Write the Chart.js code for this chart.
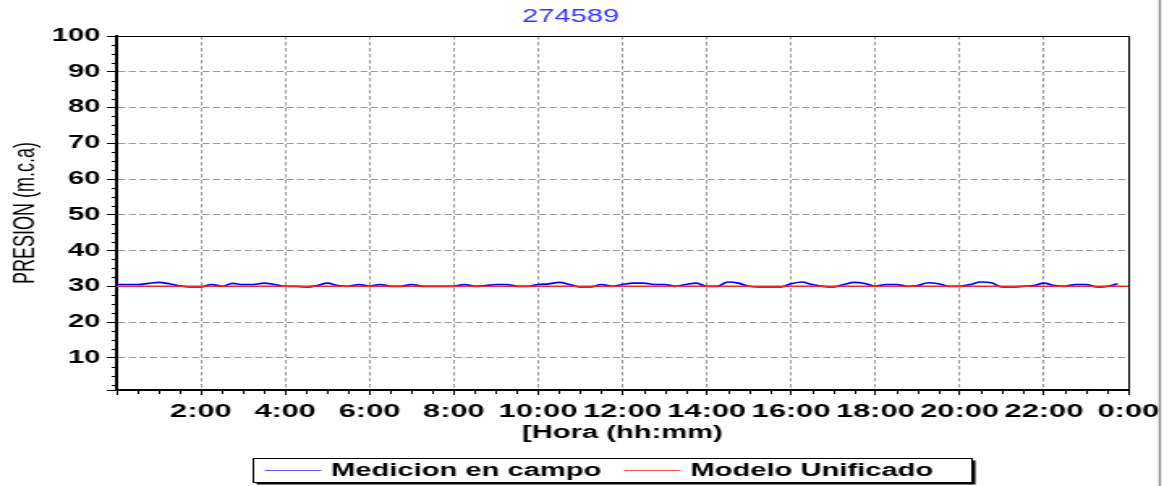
<!DOCTYPE html>
<html>
<head>
<meta charset="utf-8">
<script src="https://cdn.jsdelivr.net/npm/chart.js@4/dist/chart.umd.min.js"></script>
<style>
  html, body { margin: 0; padding: 0; background: #fff; overflow: hidden; }
</style>
</head>
<body>
<!-- drawn at 724 wide and shown at 1172 wide, like the exported report image -->
<canvas id="presion" width="724" height="486" style="width:1172px;height:486px;display:block"></canvas>
<script>
const titulo = '274589';
const series = ['Medicion en campo', 'Modelo Unificado'];

// field readings every 15 minutes, 0:00 .. 23:45
const medicion = [
  30.5, 30.5, 30.5, 30.8, 31.1, 30.7, 30.1, 29.8, 29.8, 30.5, 30.0, 30.8,
  30.5, 30.5, 30.9, 30.5, 30.0, 30.0, 29.8, 30.2, 30.9, 30.2, 30.0, 30.5,
  30.0, 30.5, 30.0, 30.0, 30.5, 30.0, 30.0, 30.0, 30.0, 30.5, 30.0, 30.2,
  30.5, 30.5, 30.0, 30.0, 30.5, 30.7, 31.1, 30.5, 29.8, 29.8, 30.5, 30.0,
  30.5, 30.9, 30.9, 30.5, 30.5, 30.0, 30.5, 30.9, 30.0, 30.0, 31.2, 30.9,
  30.0, 29.8, 29.8, 29.8, 30.7, 31.2, 30.5, 30.0, 29.8, 30.5, 31.1, 30.8,
  30.0, 30.5, 30.5, 30.0, 30.2, 31.0, 30.7, 30.0, 30.0, 30.5, 31.2, 31.0,
  29.8, 29.8, 30.0, 30.2, 30.9, 30.2, 30.0, 30.5, 30.5, 29.8, 30.0, 30.7
];

// model output every hour, 0:00 .. 24:00
const modelo = [
  30, 30, 30, 30, 30, 30, 30, 30, 30, 30, 30, 30, 30,
  30, 30, 30, 30, 30, 30, 30, 30, 30, 30, 30, 30
];

const horaLabels = ['', '2:00', '4:00', '6:00', '8:00', '10:00', '12:00',
  '14:00', '16:00', '18:00', '20:00', '22:00', '0:00'];

const FONT = '"Liberation Sans", Arial, sans-serif';
Chart.defaults.font.family = FONT;
Chart.defaults.color = '#000';

// top/right frame, minor ticks and the page edge line
const marco = {
  id: 'marco',
  afterDraw(chart) {
    const { ctx, chartArea: a, scales } = chart;
    ctx.save();
    ctx.strokeStyle = '#000';
    ctx.lineWidth = 1;
    ctx.beginPath();
    ctx.moveTo(a.left, a.top + 0.5);
    ctx.lineTo(a.right + 0.5, a.top + 0.5);
    ctx.lineTo(a.right + 0.5, a.bottom);
    ctx.stroke();

    ctx.beginPath();
    for (let v = 2.5; v < 100; v += 2.5) {
      if (v % 10 === 0) continue;
      const y = Math.round(scales.y.getPixelForValue(v)) + 0.5;
      ctx.moveTo(a.left - 3, y);
      ctx.lineTo(a.left, y);
    }
    for (let m = 30; m < 1440; m += 30) {
      if (m % 120 === 0) continue;
      const x = Math.round(scales.x.getPixelForValue(m)) + 0.5;
      ctx.moveTo(x, a.bottom);
      ctx.lineTo(x, a.bottom + 4);
    }
    ctx.stroke();

    ctx.strokeStyle = '#8c8c8c';
    ctx.lineWidth = 1.5;
    ctx.beginPath();
    ctx.moveTo(716.5, 0);
    ctx.lineTo(716.5, chart.height);
    ctx.stroke();
    ctx.restore();
  }
};

// boxed legend under the axis title, one column per series
const leyenda = {
  id: 'leyenda',
  afterDraw(chart) {
    const { ctx, chartArea: a } = chart;
    const sets = chart.data.datasets;
    ctx.save();
    ctx.font = 'bold 18px ' + FONT;
    const colW = Math.max(...sets.map(d => ctx.measureText(d.label).width)) + 55;
    const w = colW * sets.length;
    const h = 24;
    const x = Math.round((a.left + a.right) / 2 - w / 2) - 5.5;
    const y = 458.5;
    ctx.fillStyle = '#000';
    ctx.fillRect(x + 2, y + 2, w, h);
    ctx.fillStyle = '#fff';
    ctx.fillRect(x, y, w, h);
    ctx.strokeStyle = '#000';
    ctx.lineWidth = 1;
    ctx.strokeRect(x, y, w, h);
    sets.forEach((d, i) => {
      const cx = x + i * colW;
      ctx.strokeStyle = d.legendColor;
      ctx.lineWidth = 1.2;
      ctx.beginPath();
      ctx.moveTo(cx + 7, y + 12);
      ctx.lineTo(cx + 42, y + 12);
      ctx.stroke();
      ctx.fillStyle = '#000';
      ctx.textBaseline = 'middle';
      ctx.fillText(d.label, cx + 48, y + 13);
    });
    ctx.restore();
  }
};

new Chart(document.getElementById('presion'), {
  type: 'line',
  data: {
    datasets: [{
      label: series[0],
      data: medicion.map((v, i) => ({ x: i * 15, y: v })),
      borderColor: '#0000ff',
      legendColor: '#5a5aff',
      borderWidth: 1.7,
      cubicInterpolationMode: 'monotone',
      pointRadius: 0,
      order: 1
    }, {
      label: series[1],
      data: modelo.map((v, i) => ({ x: i * 60, y: v })),
      borderColor: '#f02828',
      legendColor: '#f05050',
      borderWidth: 1.5,
      pointRadius: 0,
      order: 0
    }]
  },
  options: {
    responsive: false,
    animation: false,
    events: [],
    layout: { padding: { left: 8, right: 27, top: 0, bottom: 36 } },
    plugins: {
      legend: { display: false },
      tooltip: { enabled: false },
      title: {
        display: true,
        text: titulo,
        color: '#3232ff',
        font: { size: 18, weight: 'normal' },
        padding: { top: 6, bottom: 8.4 }
      }
    },
    scales: {
      x: {
        type: 'linear',
        min: 0,
        max: 1440,
        afterFit: s => { s.height = 60; },
        ticks: {
          stepSize: 120,
          autoSkip: false,
          maxRotation: 0,
          padding: 5,
          font: { size: 19, weight: 'bold' },
          callback: v => horaLabels[v / 120] ?? ''
        },
        grid: { color: '#9a9a9a', tickColor: '#000', tickLength: 5 },
        border: { color: '#000', width: 2, dash: [3.5, 2.5] },
        title: {
          display: true,
          text: '[Hora (hh:mm)',
          font: { size: 18, weight: 'bold' },
          padding: { top: 4, bottom: 6 }
        }
      },
      y: {
        min: 1,
        max: 100,
        afterFit: s => { s.width = 64; },
        ticks: {
          stepSize: 10,
          padding: 4,
          font: { size: 18, weight: 'bold' },
          callback: v => (v % 10 === 0 ? v : '')
        },
        grid: { color: '#9a9a9a', tickColor: '#000', tickLength: 6 },
        border: { color: '#000', width: 2, dash: [4.5, 2] },
        title: {
          display: true,
          text: 'PRESION (m.c.a)',
          font: { size: 18, weight: 'normal' },
          padding: { top: -3, bottom: 0 }
        }
      }
    }
  },
  plugins: [marco, leyenda]
});
</script>
</body>
</html>
